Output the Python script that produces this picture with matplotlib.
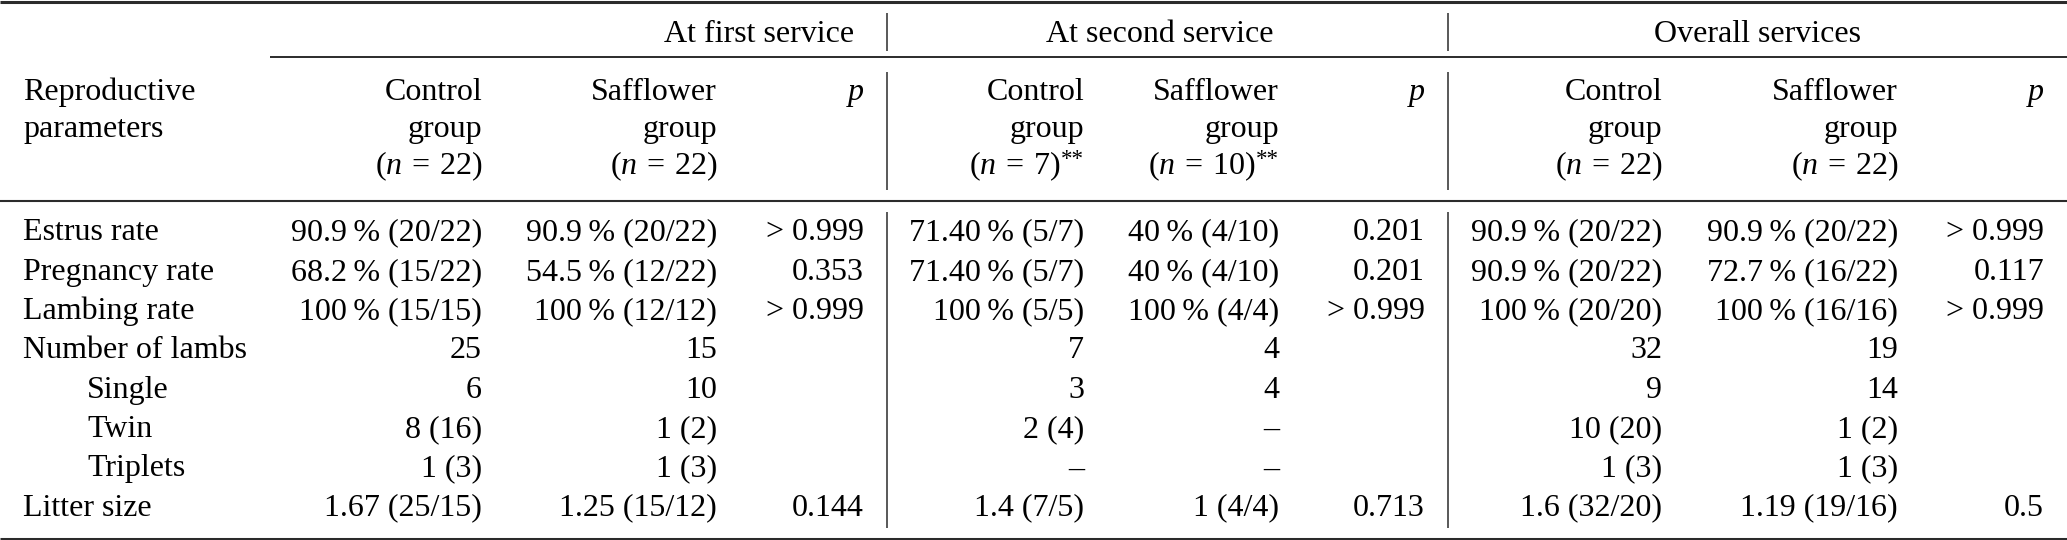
import matplotlib
matplotlib.use("Agg")
import matplotlib.pyplot as plt

# ---- table content ----
row_labels = ["Estrus rate", "Pregnancy rate", "Lambing rate", "Number of lambs",
              "Single", "Twin", "Triplets", "Litter size"]
row_indent = [0, 0, 0, 0, 1, 1, 1, 0]

group_titles = ["At first service", "At second service", "Overall services"]
group_n = [("22", "22"), ("7", "10"), ("22", "22")]
group_star = [False, True, False]

first_control = ["90.9\u2009% (20/22)", "68.2\u2009% (15/22)", "100\u2009% (15/15)", "25", "6", "8 (16)", "1 (3)", "1.67 (25/15)"]
first_saff = ["90.9\u2009% (20/22)", "54.5\u2009% (12/22)", "100\u2009% (12/12)", "15", "10", "1 (2)", "1 (3)", "1.25 (15/12)"]
first_p = ["> 0.999", "0.353", "> 0.999", "", "", "", "", "0.144"]

second_control = ["71.40\u2009% (5/7)", "71.40\u2009% (5/7)", "100\u2009% (5/5)", "7", "3", "2 (4)", "\u2013", "1.4 (7/5)"]
second_saff = ["40\u2009% (4/10)", "40\u2009% (4/10)", "100\u2009% (4/4)", "4", "4", "\u2013", "\u2013", "1 (4/4)"]
second_p = ["0.201", "0.201", "> 0.999", "", "", "", "", "0.713"]

overall_control = ["90.9\u2009% (20/22)", "90.9\u2009% (20/22)", "100\u2009% (20/20)", "32", "9", "10 (20)", "1 (3)", "1.6 (32/20)"]
overall_saff = ["90.9\u2009% (20/22)", "72.7\u2009% (16/22)", "100\u2009% (16/16)", "19", "14", "1 (2)", "1 (3)", "1.19 (19/16)"]
overall_p = ["> 0.999", "0.117", "> 0.999", "", "", "", "", "0.5"]

groups = [(first_control, first_saff, first_p),
          (second_control, second_saff, second_p),
          (overall_control, overall_saff, overall_p)]

# ---- layout (pixels) ----
W, H = 2067, 540
col_right = [(482, 717, 864), (1084, 1279, 1425), (1662, 1898, 2044)]
title_cx = [759, 1160, 1758]
vlines_x = [887, 1448]
label_x = 23
indent_x = 87
row0, row_step = 240.5, 39.3
FS = 23
star_w = 24

plt.rcParams['font.family'] = ['Liberation Serif', 'DejaVu Serif']
plt.rcParams['mathtext.fontset'] = 'custom'
plt.rcParams['mathtext.rm'] = 'Liberation Serif'
plt.rcParams['mathtext.it'] = 'Liberation Serif:italic'

fig = plt.figure(figsize=(W / 100, H / 100), dpi=100)
ax = fig.add_axes([0, 0, 1, 1])
ax.set_xlim(0, W)
ax.set_ylim(H, 0)
ax.axis("off")

rule_c = "#2b2b2b"
# horizontal rules
ax.plot([0, W], [1.5, 1.5], color=rule_c, lw=2.2, solid_capstyle="butt")
ax.plot([270, W], [57, 57], color=rule_c, lw=1.4, solid_capstyle="butt")
ax.plot([0, W], [201, 201], color=rule_c, lw=1.5, solid_capstyle="butt")
ax.plot([0, W], [538.5, 538.5], color=rule_c, lw=2.2, solid_capstyle="butt")
# vertical separators
for x in vlines_x:
    for y0, y1 in [(13, 51), (72, 190), (212, 528)]:
        ax.plot([x, x], [y0, y1], color=rule_c, lw=1.1, solid_capstyle="butt")

# group titles
for cx, t in zip(title_cx, group_titles):
    ax.text(cx, 42, t, ha="center", va="baseline", fontsize=FS)


def n_label(x, y, n, star):
    if star:
        ax.text(x, y - 9, "**", ha="right", va="baseline", fontsize=FS * 0.72)
        x -= star_w
    ax.text(x, y, r"$(n\:=\:%s)$" % n, ha="right", va="baseline", fontsize=FS)


# column header
ax.text(label_x, 100, "Reproductive", ha="left", va="baseline", fontsize=FS)
ax.text(label_x, 137, "parameters", ha="left", va="baseline", fontsize=FS)
for (xc, xs, xp), (nc, ns), star in zip(col_right, group_n, group_star):
    ax.text(xc, 100, "Control", ha="right", va="baseline", fontsize=FS)
    ax.text(xc, 137, "group", ha="right", va="baseline", fontsize=FS)
    n_label(xc, 174, nc, star)
    ax.text(xs, 100, "Safflower", ha="right", va="baseline", fontsize=FS)
    ax.text(xs, 137, "group", ha="right", va="baseline", fontsize=FS)
    n_label(xs, 174, ns, star)
    ax.text(xp, 100, "p", ha="right", va="baseline", fontsize=FS, fontstyle="italic")

# body
for i, lab in enumerate(row_labels):
    y = row0 + i * row_step
    ax.text(indent_x if row_indent[i] else label_x, y, lab, ha="left", va="baseline", fontsize=FS)
    for (xc, xs, xp), (cc, ss, pp) in zip(col_right, groups):
        ax.text(xc, y, cc[i], ha="right", va="baseline", fontsize=FS)
        ax.text(xs, y, ss[i], ha="right", va="baseline", fontsize=FS)
        if pp[i]:
            ax.text(xp, y, pp[i], ha="right", va="baseline", fontsize=FS)

fig.savefig("out.png", dpi=100)
